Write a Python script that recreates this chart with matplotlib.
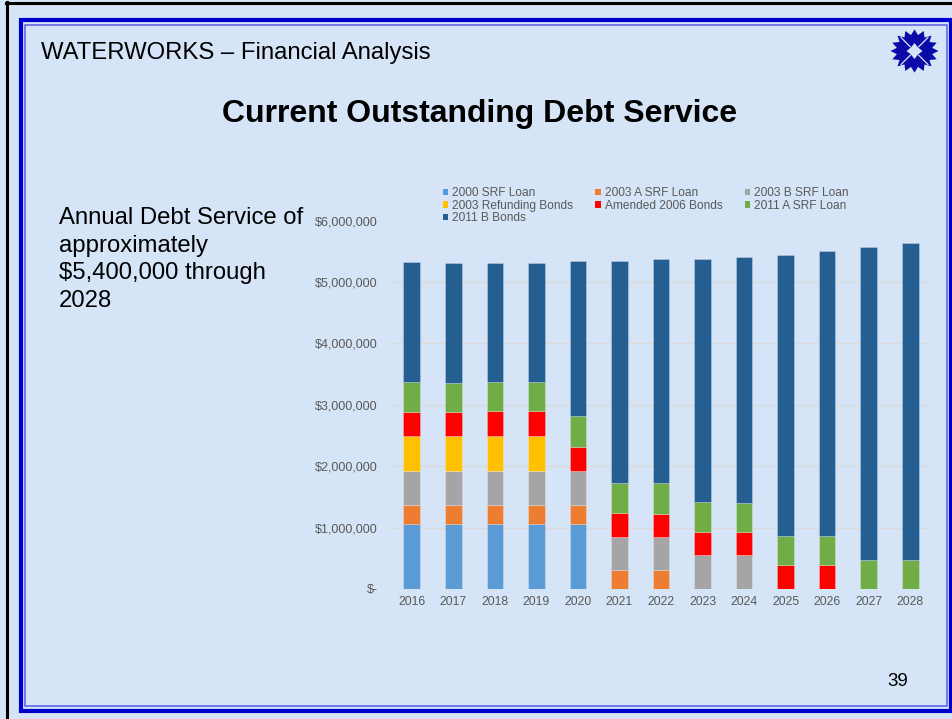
import numpy as np
import matplotlib.pyplot as plt
from matplotlib.patches import Patch, Rectangle, Polygon
from matplotlib.lines import Line2D

plt.rcParams['font.family'] = ['Liberation Sans', 'DejaVu Sans']

# Annual debt service by issue (dollars)
years = ['2016', '2017', '2018', '2019', '2020', '2021', '2022',
         '2023', '2024', '2025', '2026', '2027', '2028']
srf_2000 = [1066000, 1066000, 1066000, 1066000, 1066000, 0, 0, 0, 0, 0, 0, 0, 0]
srf_2003a = [300000, 300000, 300000, 300000, 300000, 305000, 305000, 0, 0, 0, 0, 0, 0]
srf_2003b = [560000, 560000, 560000, 560000, 560000, 535000, 535000, 550000, 550000, 0, 0, 0, 0]
refunding_2003 = [560000, 560000, 560000, 560000, 0, 0, 0, 0, 0, 0, 0, 0, 0]
amended_2006 = [390000, 390000, 410000, 410000, 385000, 400000, 380000,
                380000, 380000, 385000, 385000, 0, 0]
srf_2011a = [500000, 475000, 480000, 480000, 500000, 480000, 500000,
             490000, 470000, 475000, 475000, 480000, 480000]
bonds_2011b = [1944000, 1965000, 1940000, 1940000, 2530000, 3630000, 3650000,
               3960000, 4000000, 4580000, 4640000, 5090000, 5150000]

series = [
    ('2000 SRF Loan', srf_2000, '#5B9BD5'),
    ('2003 A SRF Loan', srf_2003a, '#ED7D31'),
    ('2003 B SRF Loan', srf_2003b, '#A5A5A5'),
    ('2003 Refunding Bonds', refunding_2003, '#FFC000'),
    ('Amended 2006 Bonds', amended_2006, '#FF0000'),
    ('2011 A SRF Loan', srf_2011a, '#70AD47'),
    ('2011 B Bonds', bonds_2011b, '#255E91'),
]

W, H = 953, 719
BG = '#D5E4F6'


def fx(px):
    return px / W


def fy(py):
    return 1 - py / H


fig = plt.figure(figsize=(W / 100, H / 100), dpi=100, facecolor=BG)

# slide frame
fig.add_artist(Line2D([fx(6), fx(W)], [fy(3), fy(3)], color='black', lw=2.2, transform=fig.transFigure))
fig.add_artist(Line2D([fx(7), fx(7)], [fy(2), fy(H)], color='black', lw=2.2, transform=fig.transFigure))
fig.add_artist(Rectangle((fx(21.5), fy(711)), fx(951.5) - fx(21.5), fy(20) - fy(711),
                         fill=False, ec='#0000CC', lw=3.0, transform=fig.transFigure))
fig.add_artist(Rectangle((fx(25.5), fy(705.5)), fx(947) - fx(25.5), fy(24.5) - fy(705.5),
                         fill=False, ec='#5A5AE6', lw=1.1, transform=fig.transFigure))

# logo
cx, cy = 914.5, 51
ang = np.linspace(0, 2 * np.pi, 32, endpoint=False)
rad = np.where(np.arange(32) % 2 == 0, 24, 18)
star = [(fx(cx + r * np.cos(a)), fy(cy + r * np.sin(a) * 0.9)) for r, a in zip(rad, ang)]
fig.add_artist(Polygon(star, closed=True, fc='#0A0AA8', ec='none', transform=fig.transFigure))
ang2 = np.linspace(0, 2 * np.pi, 8, endpoint=False)
rad2 = np.where(np.arange(8) % 2 == 0, 8, 5)
inner = [(fx(cx + r * np.cos(a)), fy(cy + r * np.sin(a))) for r, a in zip(rad2, ang2)]
fig.add_artist(Polygon(inner, closed=True, fc=BG, ec='none', transform=fig.transFigure))
for a in np.pi / 4 + np.arange(4) * np.pi / 2:
    fig.add_artist(Line2D([fx(cx + 6 * np.cos(a)), fx(cx + 19 * np.cos(a))],
                          [fy(cy + 6 * np.sin(a)), fy(cy + 19 * np.sin(a))],
                          color=BG, lw=0.9, transform=fig.transFigure))

# slide text
fig.text(fx(41), fy(59.5), 'WATERWORKS \u2013 Financial Analysis', fontsize=17.2,
         color='black', va='baseline', ha='left')
fig.text(fx(480), fy(122), 'Current Outstanding Debt Service', fontsize=23,
         fontweight='bold', color='black', va='baseline', ha='center')
side_lines = ['Annual Debt Service of', 'approximately', '$5,400,000 through', '2028']
for i, line in enumerate(side_lines):
    fig.text(fx(59), fy(224 + 27.6 * i), line, fontsize=17.2, color='black',
             va='baseline', ha='left')
fig.text(fx(887), fy(686), '39', fontsize=13.5, color='black', va='baseline', ha='left')

# chart
ax = fig.add_axes([fx(391), fy(589), fx(931) - fx(391), fy(220.6) - fy(589)])
ax.set_facecolor('none')
x = np.arange(len(years))
bottom = np.zeros(len(years))
handles = []
for name, vals, color in series:
    vals = np.array(vals, dtype=float)
    ax.bar(x, vals, width=0.4, bottom=bottom, color=color,
           edgecolor=(1, 1, 1, 0.35), linewidth=0.5, zorder=3)
    bottom += vals
    handles.append(Patch(facecolor=color, label=name))

ax.set_xlim(-0.5, len(years) - 0.5)
ax.set_ylim(0, 6000000)
ax.set_yticks([0, 1000000, 2000000, 3000000, 4000000, 5000000, 6000000])
ax.set_yticklabels(['$-', '$1,000,000', '$2,000,000', '$3,000,000',
                    '$4,000,000', '$5,000,000', '$6,000,000'])
ax.set_xticks(x)
ax.set_xticklabels(years)
ax.tick_params(axis='y', length=0, pad=9.5, labelsize=9, labelcolor='#595959')
ax.tick_params(axis='x', length=0, pad=5, labelsize=8.8, labelcolor='#595959')
ax.yaxis.grid(True, color='#DCDAD8', linewidth=0.9, zorder=0)
ax.get_ygridlines()[-1].set_visible(False)
for s in ax.spines.values():
    s.set_visible(False)

# legend, filled column by column
order = [0, 3, 6, 1, 4, 2, 5]
leg = fig.legend([handles[i] for i in order], [handles[i].get_label() for i in order],
                 ncol=3, loc='upper left', bbox_to_anchor=(fx(437), fy(181)),
                 frameon=False, fontsize=8.6, handlelength=0.45, handleheight=0.45,
                 handletextpad=0.33, columnspacing=1.85, labelspacing=0.05,
                 borderpad=0, labelcolor='#595959')

fig.savefig('out.png', dpi=100, facecolor=BG)
